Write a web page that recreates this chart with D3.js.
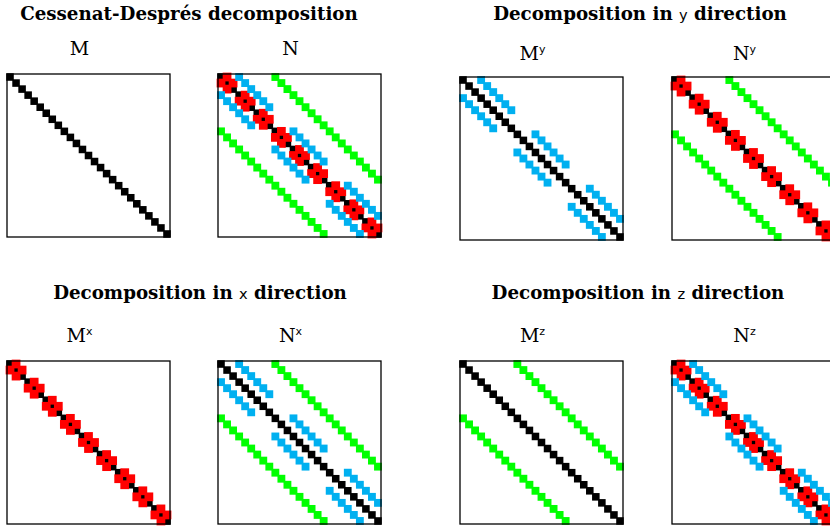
<!DOCTYPE html>
<html><head><meta charset="utf-8">
<script src="https://cdn.jsdelivr.net/npm/d3@7"></script>
<style>body{margin:0;background:#fff}svg{display:block}</style>
</head><body>
<script>
// ---------------- data ----------------
const gridDims = [3, 3, 3];                 // points in x, y, z  -> 27 unknowns
const couplingKeys = ["diag", "x", "y", "z"];
const couplingColors = ["#000000", "#ff0000", "#00b0f0", "#00ff00"];
const panelLetters = ["M", "N", "M", "N", "M", "N", "M", "N"];
const panelSups = ["", "", "y", "y", "x", "x", "z", "z"];
const panelCouplings = [
  ["diag"], ["diag", "x", "y", "z"],
  ["diag", "y"], ["diag", "x", "z"],
  ["diag", "x"], ["diag", "y", "z"],
  ["diag", "z"], ["diag", "x", "y"]
];
const titleParts = [
  ["Cessenat-Després decomposition", "", ""],
  ["Decomposition in ", "y", " direction"],
  ["Decomposition in ", "x", " direction"],
  ["Decomposition in ", "z", " direction"]
];

// ---------------- layout ----------------
const W = 830, H = 529;
const frameSize = 163;
const panelX = [7, 218, 460, 672, 7, 218, 460, 672];
const panelY = [74, 74, 77, 77, 361, 361, 361, 361];
const titleX = [189, 640, 200, 638];
const titleY = [20, 20, 299, 299];
const labelY = [55, 55, 60, 60, 342, 342, 342, 342];

const svg = d3.select("body").append("svg").attr("width", W).attr("height", H);

const N = gridDims[0] * gridDims[1] * gridDims[2];
const idx = d3.range(N);
const scale = d3.scaleBand().domain(idx).range([0, frameSize]).padding(0);
const bw = scale.bandwidth();

// sparsity pattern of the 7-point stencil couplings
function entries(key) {
  const out = [];
  const [nx, ny, nz] = gridDims;
  idx.forEach(i => {
    const ix = i % nx, iy = Math.floor(i / nx) % ny, iz = Math.floor(i / (nx * ny));
    if (key === "diag") out.push([i, i]);
    if (key === "x") { if (ix > 0) out.push([i, i - 1]); if (ix < nx - 1) out.push([i, i + 1]); }
    if (key === "y") { if (iy > 0) out.push([i, i - nx]); if (iy < ny - 1) out.push([i, i + nx]); }
    if (key === "z") { if (iz > 0) out.push([i, i - nx * ny]); if (iz < nz - 1) out.push([i, i + nx * ny]); }
  });
  return out;
}

const markerScale = {diag: 1.25, x: 1.45, y: 1.3, z: 1.3};

panelLetters.forEach((letter, p) => {
  const g = svg.append("g").attr("transform", `translate(${panelX[p]},${panelY[p]})`);
  panelCouplings[p].forEach(key => {
    const ci = couplingKeys.indexOf(key);
    const s = bw * markerScale[key];
    g.append("g").selectAll("rect").data(entries(key)).join("rect")
      .attr("x", d => scale(d[1]) + bw / 2 - s / 2)
      .attr("y", d => scale(d[0]) + bw / 2 - s / 2)
      .attr("width", s).attr("height", s)
      .attr("fill", couplingColors[ci]);
  });
  g.append("rect").attr("x", 0).attr("y", 0).attr("width", frameSize).attr("height", frameSize)
    .attr("fill", "none").attr("stroke", "#000").attr("stroke-width", 1.3);

  const t = svg.append("text")
    .attr("x", panelX[p] + frameSize / 2 - 9).attr("y", labelY[p])
    .attr("text-anchor", "middle")
    .attr("font-family", "DejaVu Serif").attr("font-size", 19).attr("fill", "#000");
  t.append("tspan").text(letter);
  if (panelSups[p]) t.append("tspan").attr("font-family", "DejaVu Sans")
    .attr("font-size", 11).attr("dy", -7).text(panelSups[p]);
});

// common title font size: "Decomposition" about 153px wide
const probe = svg.append("text").attr("font-family", "DejaVu Serif").attr("font-weight", "bold")
  .attr("font-size", 16).text("Decomposition");
const titleFs = 16 * 153 / probe.node().getComputedTextLength();
probe.remove();

titleParts.forEach((parts, k) => {
  const t = svg.append("text").attr("x", titleX[k]).attr("y", titleY[k])
    .attr("text-anchor", "middle").attr("font-family", "DejaVu Serif")
    .attr("font-size", titleFs).attr("fill", "#000");
  t.append("tspan").attr("font-weight", "bold").text(parts[0]);
  if (parts[1]) t.append("tspan").attr("font-family", "DejaVu Sans").attr("font-size", titleFs * 0.8).text(parts[1]);
  if (parts[2]) t.append("tspan").attr("font-weight", "bold").text(parts[2]);
});
</script>
</body></html>
